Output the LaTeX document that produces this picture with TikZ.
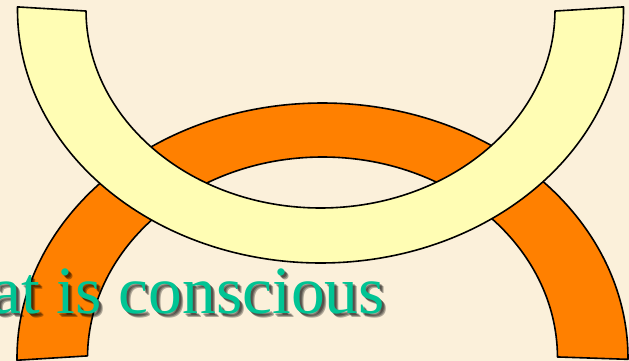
\documentclass[tikz,border=0pt]{standalone}
\usepackage{fontspec}
\setmainfont{Liberation Serif}
\usetikzlibrary{calc}
\definecolor{bgparch}{RGB}{251,240,218}
\definecolor{archorange}{RGB}{255,128,0}
\definecolor{archyellow}{RGB}{255,253,180}
\definecolor{textteal}{RGB}{0,196,148}
\tikzset{
  band/.style={draw=black, line width=1.6pt, line join=round},
  titletext/.style={inner sep=0pt, anchor=base east, font=\fontsize{67.5}{70}\selectfont},
}
\begin{document}
\begin{tikzpicture}[x=1pt,y=-1pt]
\useasboundingbox (0,0) rectangle (629,361);
\clip (0,0) rectangle (629,361);
\fill[bgparch] (0,0) rectangle (629,361);
% orange arch (upper half ring)
\coordinate (oc) at (322.5,358);
\path[band, fill=archorange]
  (oc) ++(179.5:305.5 and 255)
  arc[start angle=179.5, end angle=360.3, x radius=305.5, y radius=255]
  -- ($(oc)+(359.7:235 and 201)$)
  arc[start angle=359.7, end angle=180.6, x radius=235, y radius=201]
  -- cycle;
% text with soft shadow
\foreach \dx/\dy in {2/2,3/3,4/4}{
  \node[titletext, text=black, opacity=0.3] at (385+\dx,313+\dy) {at is conscious};
}
\node[titletext, text=textteal] (title) at (385,313) {at is conscious};
% yellow U (lower half ring)
\coordinate (yc) at (320.5,10);
\path[band, fill=archyellow]
  (yc) ++(-0.7:303 and 253)
  arc[start angle=-0.7, end angle=180.7, x radius=303, y radius=253]
  -- ($(yc)+(179.7:234.5 and 198)$)
  arc[start angle=179.7, end angle=0.3, x radius=234.5, y radius=198]
  -- cycle;
\end{tikzpicture}
\end{document}
